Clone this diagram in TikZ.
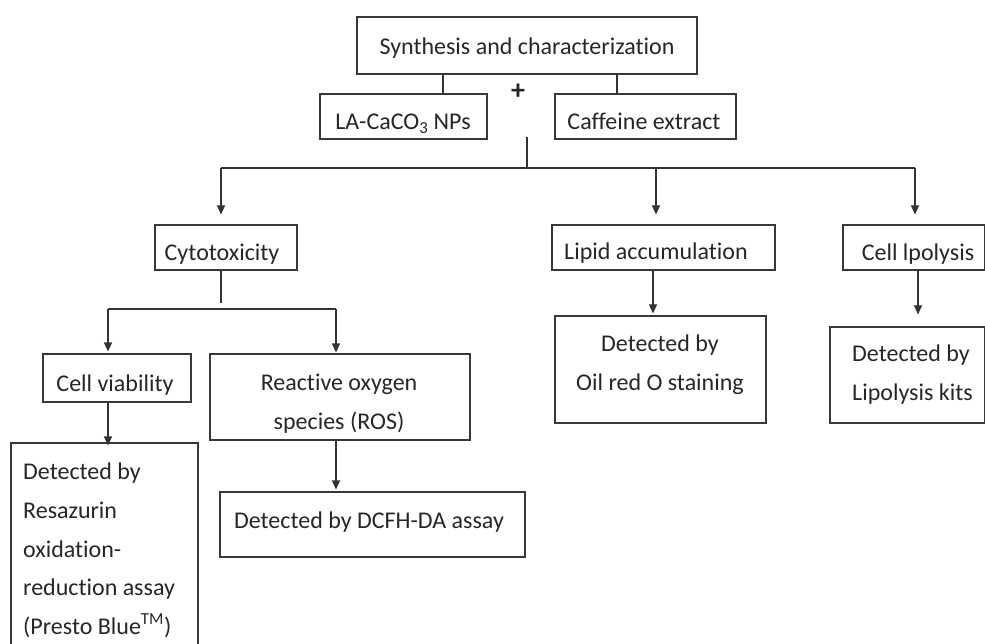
\documentclass[tikz,border=0pt]{standalone}
\usepackage{fontspec}
\setmainfont{Carlito}[Ligatures={NoCommon}]
\usetikzlibrary{arrows.meta,calc}
\begin{document}
\begin{tikzpicture}[x=1pt,y=-1pt,
  box/.style={draw=black!78, line width=1.1pt, inner sep=0pt},
  txt/.style={font=\fontsize{24}{28}\selectfont, text=black!85, inner sep=0pt, anchor=base},
  txtl/.style={txt, anchor=base west},
  ln/.style={draw=black!80, line width=1.1pt},
  arr/.style={ln, -{Triangle[length=9pt,width=8pt]}}]
\useasboundingbox (0,0) rectangle (985,644);
% boxes
\node[box, minimum width=340pt, minimum height=57pt] (synth) at (527,45.5) {};
\node[box, minimum width=167pt, minimum height=45pt] (la) at (403.5,116.5) {};
\node[box, minimum width=181pt, minimum height=45pt] (caf) at (645.5,116.5) {};
\node[box, minimum width=142pt, minimum height=45pt] (cyto) at (226,247.5) {};
\node[box, minimum width=223pt, minimum height=45pt] (lipid) at (663.5,247.5) {};
\node[box, minimum width=142pt, minimum height=45pt] (lpol) at (914,247.5) {};
\node[box, minimum width=148pt, minimum height=48pt] (via) at (117,378) {};
\node[box, minimum width=260pt, minimum height=86pt] (ros) at (340,397) {};
\node[box, minimum width=187pt, minimum height=219pt] (resa) at (104.5,552.5) {};
\node[box, minimum width=305pt, minimum height=65pt] (dcfh) at (372.5,524.5) {};
\node[box, minimum width=211pt, minimum height=107pt] (oil) at (660.5,369.5) {};
\node[box, minimum width=155pt, minimum height=96pt] (lipk) at (907.5,375) {};
% texts
\node[txt] (synthT) at (527,55) {Synthesis and characterization};
\node[txt] (laT) at (403,130) {LA-CaCO\textsubscript{3} NPs};
\node[txt] (cafT) at (644,130) {Caffeine extract};
\node[txt] (plus) at (518,100) {\fontsize{28}{30}\selectfont\textbf{+}};
\node[txt] (cytoT) at (222,261) {Cytotoxicity};
\node[txt] (lipidT) at (656,260) {Lipid accumulation};
\node[txt] (lpolT) at (918,261) {Cell lpolysis};
\node[txt] (viaT) at (115,391) {Cell viability};
\node[txt] (rosT1) at (339,390) {Reactive oxygen};
\node[txt] (rosT2) at (339,429) {species (ROS)};
\node[txt] (dcfhT) at (369,528) {Detected by DCFH-DA assay};
\node[txtl] (resaT1) at (23,479) {Detected by};
\node[txtl] (resaT2) at (23,518) {Resazurin};
\node[txtl] (resaT3) at (23,557) {oxidation-};
\node[txtl] (resaT4) at (23,595) {reduction assay};
\node[txtl] (resaT5) at (23,634) {(Presto Blue\textsuperscript{TM})};
\node[txt] (oilT1) at (660,351) {Detected by};
\node[txt] (oilT2) at (660,390) {Oil red O staining};
\node[txtl] (lipkT1) at (852,361) {Detected by};
\node[txtl] (lipkT2) at (852,400) {Lipolysis kits};
% connectors
\coordinate (cA) at (443,0);
\coordinate (cB) at (617,0);
\draw[ln] (synth.south -| cA) -- (la.north -| cA);
\draw[ln] (synth.south -| cB) -- (caf.north -| cB);
\coordinate (trunkTop) at (527,137);
\coordinate (hub) at (527,168);
\coordinate (bCyto) at (221,168);
\coordinate (bLip) at (656,168);
\coordinate (bLpol) at (915,168);
\draw[ln] (trunkTop) -- (hub);
\draw[ln] (bCyto) -- (bLpol);
\draw[arr, shorten >=10pt] (bCyto) -- (bCyto |- cyto.north);
\draw[arr, shorten >=10pt] (bLip) -- (bLip |- lipid.north);
\draw[arr, shorten >=10pt] (bLpol) -- (bLpol |- lpol.north);
\coordinate (cytoJ) at (221,303);
\draw[ln] (cyto.south -| cytoJ) -- (cytoJ);
\coordinate (jVia) at (108,309);
\coordinate (jRos) at (336,309);
\draw[ln] (jVia) -- (jRos);
\draw[arr, shorten >=2pt] (jVia) -- (jVia |- via.north);
\draw[arr, shorten >=1pt] (jRos) -- (jRos |- ros.north);
\draw[arr, shorten >=-3pt] (via.south -| jVia) -- (jVia |- resa.north);
\draw[arr, shorten >=2pt] (ros.south -| jRos) -- (jRos |- dcfh.north);
\coordinate (xLip) at (653,0);
\draw[arr, shorten >=2pt] (lipid.south -| xLip) -- (xLip |- oil.north);
\coordinate (xLpol) at (918,0);
\draw[arr, shorten >=12pt] (lpol.south -| xLpol) -- (xLpol |- lipk.north);
\end{tikzpicture}
\end{document}
